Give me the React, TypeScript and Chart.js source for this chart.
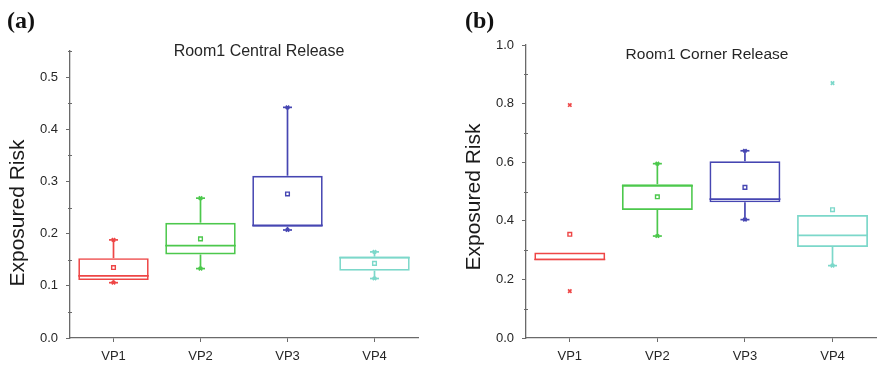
import React, { useEffect, useRef } from "react";
import { Chart, registerables } from "chart.js";
Chart.register(...registerables);

const categories = ["VP1", "VP2", "VP3", "VP4"];
const boxColors = ["#ee4646", "#4cc84c", "#4646b2", "#7cd8ca"];

// Panel (a): Room1 Central Release
const aLabel = "(a)";
const aTitle = "Room1 Central Release";
const aQ1 = [0.111, 0.16, 0.213, 0.129];
const aQ3 = [0.153, 0.221, 0.311, 0.156];
const aMedian = [0.119, 0.177, 0.216, 0.154];
const aWhiskerLow = [0.106, 0.133, 0.207, 0.114];
const aWhiskerHigh = [0.188, 0.268, 0.442, 0.165];
const aMean = [0.135, 0.19, 0.276, 0.143];
const aMax = [0.188, 0.268, 0.442, 0.165];
const aMin = [0.106, 0.133, 0.207, 0.114];
const aYMax = 0.55;
const aYStep = 0.05;
const aYLabelEvery = 0.1;

// Panel (b): Room1 Corner Release
const bLabel = "(b)";
const bTitle = "Room1 Corner Release";
const bQ1 = [0.265, 0.437, 0.463, 0.311];
const bQ3 = [0.292, 0.525, 0.603, 0.42];
const bMedian = [0.268, 0.519, 0.474, 0.35];
const bWhiskerLow = [0.265, 0.348, 0.404, 0.247];
const bWhiskerHigh = [0.292, 0.595, 0.639, 0.42];
const bMean = [0.354, 0.482, 0.514, 0.438];
const bMax = [0.795, 0.595, 0.639, 0.87];
const bMin = [0.16, 0.348, 0.404, 0.247];
const bYMax = 1.0;
const bYStep = 0.1;
const bYLabelEvery = 0.2;

const yAxisTitle = "Exposured Risk";

const AXIS = "#6a6a6a";
const TEXT = "#262626";
const FONT = "'Liberation Sans', Arial, sans-serif";

type Panel = {
  label: string;
  title: string;
  q1: number[];
  q3: number[];
  median: number[];
  wLow: number[];
  wHigh: number[];
  mean: number[];
  max: number[];
  min: number[];
  yMax: number;
  yStep: number;
  labelEvery: number;
  layout: {
    left: number;
    top: number;
    right: number;
    labelX: number;
    titleX: number;
    titleY: number;
    titleSize: number;
    yTitleX: number;
    yTitleY: number;
  };
};

function isMajor(v: number, every: number) {
  const r = v / every;
  return Math.abs(r - Math.round(r)) < 1e-6;
}

function makeConfig(p: Panel): any {
  const extras = {
    id: "boxExtras",
    afterDatasetsDraw(chart: any) {
      const { ctx } = chart;
      const x = chart.scales.x;
      const y = chart.scales.y;
      const meta = chart.getDatasetMeta(0);
      ctx.save();
      ctx.lineWidth = 1.7;
      const line = (x1: number, y1: number, x2: number, y2: number) => {
        ctx.beginPath();
        ctx.moveTo(x1, y1);
        ctx.lineTo(x2, y2);
        ctx.stroke();
      };
      p.median.forEach((m, i) => {
        const cx = x.getPixelForValue(i);
        const hw = meta.data[i].width / 2;
        ctx.strokeStyle = boxColors[i];
        line(cx - hw, y.getPixelForValue(m), cx + hw, y.getPixelForValue(m));
        if (p.wHigh[i] > p.q3[i] + 1e-9) {
          const yt = y.getPixelForValue(p.wHigh[i]);
          line(cx, y.getPixelForValue(p.q3[i]), cx, yt);
          line(cx - 4.5, yt, cx + 4.5, yt);
        }
        if (p.wLow[i] < p.q1[i] - 1e-9) {
          const yb = y.getPixelForValue(p.wLow[i]);
          line(cx, y.getPixelForValue(p.q1[i]), cx, yb);
          line(cx - 4.5, yb, cx + 4.5, yb);
        }
      });
      ctx.restore();
    },
    afterDraw(chart: any) {
      const { ctx, chartArea } = chart;
      const y = chart.scales.y;
      ctx.save();
      // minor ticks
      ctx.strokeStyle = AXIS;
      ctx.lineWidth = 1;
      y.ticks.forEach((t: any) => {
        if (!isMajor(t.value, p.labelEvery)) {
          const py = Math.round(y.getPixelForValue(t.value)) + 0.5;
          ctx.beginPath();
          ctx.moveTo(chartArea.left - 2, py);
          ctx.lineTo(chartArea.left + 2, py);
          ctx.stroke();
        }
      });
      // panel label
      ctx.fillStyle = "#111";
      ctx.font = "bold 24px 'Liberation Serif', 'Times New Roman', serif";
      ctx.textAlign = "left";
      ctx.textBaseline = "middle";
      ctx.fillText(p.label, p.layout.labelX, 22);
      // title
      ctx.fillStyle = TEXT;
      ctx.font = `${p.layout.titleSize}px ${FONT}`;
      ctx.textAlign = "center";
      ctx.fillText(p.title, p.layout.titleX, p.layout.titleY);
      // y axis title
      ctx.translate(p.layout.yTitleX, p.layout.yTitleY);
      ctx.rotate(-Math.PI / 2);
      ctx.fillStyle = "#1a1a1a";
      ctx.font = `21px ${FONT}`;
      ctx.fillText(yAxisTitle, 0, 0);
      ctx.restore();
    },
  };

  return {
    type: "bar",
    data: {
      labels: categories,
      datasets: [
        {
          type: "bar",
          data: p.q1.map((v, i) => [v, p.q3[i]]),
          backgroundColor: "rgba(0,0,0,0)",
          borderColor: boxColors,
          borderWidth: 1.7,
          borderSkipped: false,
          barPercentage: 0.81,
          categoryPercentage: 1,
          order: 3,
        },
        {
          type: "line",
          data: p.mean,
          showLine: false,
          pointStyle: "rect",
          pointRadius: 2.6,
          pointBorderWidth: 1.4,
          pointBackgroundColor: "rgba(255,255,255,0)",
          pointBorderColor: boxColors,
          order: 1,
        },
        {
          type: "line",
          data: p.max,
          showLine: false,
          pointStyle: "crossRot",
          pointRadius: 2.4,
          pointBorderWidth: 1.7,
          pointBorderColor: boxColors,
          order: 1,
        },
        {
          type: "line",
          data: p.min,
          showLine: false,
          pointStyle: "crossRot",
          pointRadius: 2.4,
          pointBorderWidth: 1.7,
          pointBorderColor: boxColors,
          order: 1,
        },
      ],
    },
    options: {
      responsive: false,
      animation: false,
      layout: {
        padding: { left: 0, top: p.layout.top, right: p.layout.right, bottom: 0 },
      },
      plugins: {
        legend: { display: false },
        tooltip: { enabled: false },
        title: { display: false },
      },
      scales: {
        x: {
          type: "category",
          offset: true,
          afterFit: (s: any) => {
            s.height = 32;
          },
          grid: {
            offset: false,
            drawOnChartArea: false,
            drawTicks: true,
            tickLength: 4,
            tickColor: AXIS,
          },
          border: { display: true, color: AXIS, width: 1.3 },
          ticks: {
            color: TEXT,
            font: { size: 13, family: FONT },
            padding: 7,
            maxRotation: 0,
          },
        },
        y: {
          type: "linear",
          min: 0,
          max: p.yMax,
          afterFit: (s: any) => {
            s.width = p.layout.left;
          },
          grid: {
            drawOnChartArea: false,
            drawTicks: true,
            tickLength: 4,
            tickColor: (c: any) =>
              c.tick && isMajor(c.tick.value, p.labelEvery) ? AXIS : "rgba(0,0,0,0)",
          },
          border: { display: true, color: AXIS, width: 1.3 },
          ticks: {
            stepSize: p.yStep,
            autoSkip: false,
            color: TEXT,
            font: { size: 13, family: FONT },
            padding: 8,
            callback: (v: any) => (isMajor(Number(v), p.labelEvery) ? Number(v).toFixed(1) : ""),
          },
        },
      },
    },
    plugins: [extras],
  };
}

const panelA: Panel = {
  label: aLabel,
  title: aTitle,
  q1: aQ1,
  q3: aQ3,
  median: aMedian,
  wLow: aWhiskerLow,
  wHigh: aWhiskerHigh,
  mean: aMean,
  max: aMax,
  min: aMin,
  yMax: aYMax,
  yStep: aYStep,
  labelEvery: aYLabelEvery,
  layout: { left: 70, top: 51, right: 22, labelX: 7, titleX: 259, titleY: 52, titleSize: 16, yTitleX: 18, yTitleY: 213 },
};

const panelB: Panel = {
  label: bLabel,
  title: bTitle,
  q1: bQ1,
  q3: bQ3,
  median: bMedian,
  wLow: bWhiskerLow,
  wHigh: bWhiskerHigh,
  mean: bMean,
  max: bMax,
  min: bMin,
  yMax: bYMax,
  yStep: bYStep,
  labelEvery: bYLabelEvery,
  layout: { left: 86, top: 45, right: 0, labelX: 25, titleX: 267, titleY: 55, titleSize: 15.5, yTitleX: 34, yTitleY: 197 },
};

export default function App() {
  const refA = useRef<HTMLCanvasElement>(null);
  const refB = useRef<HTMLCanvasElement>(null);
  useEffect(() => {
    const ca = new Chart(refA.current as HTMLCanvasElement, makeConfig(panelA));
    const cb = new Chart(refB.current as HTMLCanvasElement, makeConfig(panelB));
    return () => {
      ca.destroy();
      cb.destroy();
    };
  }, []);
  return (
    <div
      style={{
        position: "absolute",
        left: 0,
        top: 0,
        width: 878,
        height: 370,
        overflow: "hidden",
        background: "#ffffff",
      }}
    >
      <canvas ref={refA} width={440} height={370} style={{ position: "absolute", left: 0, top: 0 }} />
      <canvas ref={refB} width={442} height={370} style={{ position: "absolute", left: 440, top: 0 }} />
    </div>
  );
}
